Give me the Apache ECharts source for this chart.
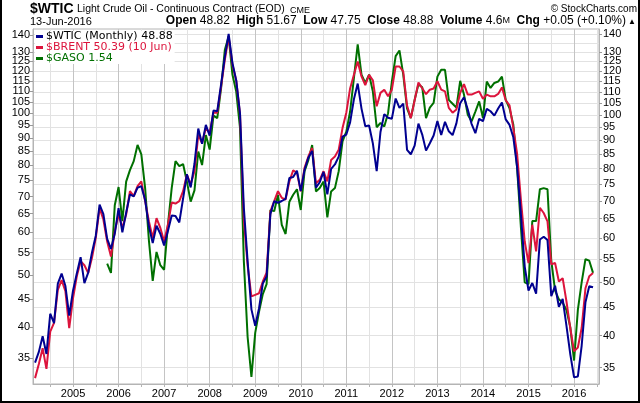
<!DOCTYPE html>
<html><head><meta charset="utf-8">
<script src="https://cdn.jsdelivr.net/npm/echarts@6/dist/echarts.min.js"></script>
<style>html,body{margin:0;padding:0;background:#fff}#c{width:640px;height:403px}</style>
</head><body><div id="c"></div>
<script>
// first monthly point: Mar 2004 (month index 2 counted from Jan 2004 = 0)
const firstMonth = 2;
const wtic = [
  35.76, 37.38, 39.88, 37.05, 43.80, 42.12, 49.64, 51.76, 49.13, 43.45,
  48.20, 51.75, 55.40, 49.72, 51.97, 56.50, 60.57, 68.94, 66.24, 59.76, 57.32, 61.04,
  67.92, 61.41, 66.63, 71.88, 71.29, 73.93, 74.40, 70.26, 62.91, 58.73, 63.13, 61.05,
  58.14, 61.79, 65.87, 65.71, 64.01, 70.68, 78.21, 74.04, 81.66, 94.53, 88.71, 95.98,
  91.75, 101.84, 101.58, 113.46, 127.35, 140.00, 124.08, 115.46, 100.64, 68.10, 54.43, 44.60,
  41.68, 44.76, 49.66, 51.12, 66.31, 69.89, 69.45, 69.96, 70.61, 77.00, 77.28, 79.36,
  72.89, 79.66, 83.76, 86.15, 73.97, 75.63, 78.95, 71.92, 79.97, 81.43, 84.11, 91.38,
  92.19, 96.97, 106.72, 113.93, 102.70, 95.42, 95.70, 88.81, 79.20, 93.19, 100.36, 98.83,
  98.48, 107.07, 103.02, 104.87, 86.53, 84.96, 88.06, 96.47, 92.19, 86.24, 88.91, 91.82,
  97.49, 92.05, 97.23, 93.46, 91.97, 96.56, 105.03, 107.65, 102.33, 96.38, 92.72, 98.42,
  97.49, 102.59, 101.58, 99.74, 102.71, 105.37, 98.17, 95.96, 91.16, 80.54, 66.15, 53.27,
  48.24, 49.76, 47.60, 59.63, 60.30, 59.47, 47.12, 49.20, 45.09, 46.59, 41.65, 37.04,
  33.62, 33.75, 38.34, 45.92, 49.10, 48.88
];
const brent = [
  32.1, 34.1, 36.5, 33.4, 39.2, 40.7, 46.9, 48.9, 46.6, 39.8,
  45.2, 49.7, 53.0, 52.1, 50.4, 53.8, 58.6, 66.6, 63.4, 57.7, 54.1, 60.3,
  64.8, 61.2, 64.8, 71.6, 70.1, 73.2, 74.7, 68.6, 62.9, 58.6, 63.8, 61.2,
  57.7, 62.0, 68.2, 67.9, 68.6, 71.6, 76.9, 73.7, 78.0, 91.2, 88.0, 93.9,
  91.9, 100.3, 100.3, 112.1, 125.9, 139.0, 123.2, 115.2, 99.5, 63.4, 52.1, 45.6,
  45.9, 46.2, 48.6, 50.5, 65.7, 68.6, 71.6, 69.6, 69.1, 74.7, 78.3, 77.5,
  71.6, 79.2, 83.1, 86.2, 74.1, 75.2, 78.0, 74.7, 81.9, 83.1, 85.6, 93.9,
  100.3, 111.3, 118.0, 125.0, 117.2, 112.9, 118.0, 115.2, 103.1, 109.2, 110.7, 107.6,
  110.7, 122.3, 122.3, 119.7, 103.4, 98.0, 105.8, 114.2, 111.4, 108.6, 110.7, 111.3,
  114.8, 110.7, 109.9, 102.4, 100.3, 101.7, 109.2, 113.4, 108.4, 108.4, 109.2, 109.9,
  106.5, 108.4, 107.6, 107.6, 108.7, 111.8, 105.8, 103.5, 93.9, 84.0, 69.0, 57.7,
  52.6, 62.0, 55.3, 66.7, 65.2, 62.9, 52.3, 52.6, 48.6, 49.3, 44.6, 39.8,
  36.0, 36.6, 39.8, 47.2, 49.7, 50.4
];
// GASO starts Oct 2005 (month index 21)
const gasoFirstMonth = 21;
const gaso = [
  1.60, 1.54, 2.04,
  2.20, 1.91, 2.25, 2.36, 2.45, 2.62, 2.52, 2.19, 1.76, 1.49, 1.68, 1.59,
  1.56, 1.88, 2.19, 2.45, 2.40, 2.42, 2.25, 2.07, 2.17, 2.55, 2.41, 2.73,
  2.57, 2.96, 2.93, 3.31, 3.89, 4.11, 3.51, 3.27, 2.81, 1.62, 1.18, 1.00,
  1.20, 1.31, 1.41, 1.47, 2.00, 1.99, 2.13, 1.88, 1.81, 2.07, 2.13, 2.18,
  2.00, 2.35, 2.46, 2.62, 2.16, 2.19, 2.25, 1.94, 2.16, 2.19, 2.35, 2.66,
  2.77, 3.01, 3.46, 3.98, 3.51, 3.39, 3.51, 3.27, 2.82, 2.87, 2.83, 2.99,
  3.41, 3.79, 3.88, 3.51, 3.05, 2.93, 3.16, 3.37, 3.33, 2.93, 3.06, 3.12,
  3.48, 3.58, 3.58, 3.16, 3.11, 3.06, 3.42, 3.23, 2.97, 2.89, 3.01, 3.14,
  2.93, 3.41, 3.32, 3.39, 3.41, 3.48, 3.16, 3.05, 2.85, 2.38, 1.86, 1.48,
  1.47, 1.91, 1.91, 2.18, 2.19, 2.18, 1.62, 1.43, 1.38, 1.36, 1.32, 1.23,
  1.07, 1.32, 1.48, 1.63, 1.62, 1.54
];
const priceTicks = [35,40,45,50,55,60,65,70,75,80,85,90,95,100,105,110,115,120,125,130,135,140];
const yearLabels = [2005,2006,2007,2008,2009,2010,2011,2012,2013,2014,2015,2016];
const seriesNames = ['$WTIC (Monthly) 48.88', '$BRENT 50.39 (10 Jun)', '$GASO 1.54'];
const colors = ['#000090', '#dc143c', '#007000'];

const yearTicks = yearLabels.map(y => (y - 2004) * 12);
const halfYearTicks = [];
for (let m = 6; m <= 150; m += 6) halfYearTicks.push(m);

const toPairs = (arr, start) => arr.map((v, i) => [start + i, v]);

const FONT = '"Liberation Sans", Arial, sans-serif';
const yLabel = (margin) => ({customValues: priceTicks, formatter: v => String(Math.round(v)), fontFamily: FONT, fontSize: 11, color: '#000', margin: margin, interval: 0, showMinLabel: true, showMaxLabel: true, hideOverlap: false});
const chart = echarts.init(document.getElementById('c'), null, {renderer: 'canvas'});
chart.setOption({
  animation: false,
  backgroundColor: '#fff',
  grid: {left: 33, right: 41, top: 29, bottom: 19, show: true, borderColor: '#b4b4b4', borderWidth: 1, containLabel: false},
  legend: {
    orient: 'vertical', left: 35, top: 31, padding: [0, 2, 0, 1], itemGap: 0,
    icon: 'rect', itemWidth: 7, itemHeight: 3, selectedMode: false,
    backgroundColor: '#fff',
    textStyle: {fontFamily: '"DejaVu Sans", Verdana, sans-serif', fontSize: 11, lineHeight: 11, padding: [0,0,0,-2]},
    data: [
      {name: seriesNames[0], textStyle: {color: '#000'}},
      {name: seriesNames[1], textStyle: {color: colors[1]}},
      {name: seriesNames[2], textStyle: {color: colors[2]}}
    ]
  },
  xAxis: {
    type: 'value', min: 1.46, max: 150.57,
    axisLine: {show: true, lineStyle: {color: '#b4b4b4'}},
    axisTick: {show: true, customValues: halfYearTicks, length: 3, lineStyle: {color: '#b4b4b4'}},
    axisLabel: {customValues: yearTicks, formatter: v => String(2004 + Math.round(v / 12)), fontFamily: FONT, fontSize: 11, color: '#000', margin: 4},
    splitLine: {show: true, lineStyle: {color: ['#e2e2e2', '#c4c4c4'], width: 1}}
  },
  yAxis: [
    { // WTIC scale (right)
      type: 'log', logBase: 10, min: 32.71, max: 142.94, position: 'right',
      axisLine: {show: true, lineStyle: {color: '#b4b4b4'}},
      axisTick: {show: true, customValues: priceTicks, length: 3, lineStyle: {color: '#999'}},
      axisLabel: yLabel(4),
      splitLine: {show: true, lineStyle: {color: '#e2e2e2', width: 1}}
    },
    { // BRENT scale (left)
      type: 'log', logBase: 10, min: 31.30, max: 143.65, position: 'left',
      axisLine: {show: true, lineStyle: {color: '#b4b4b4'}},
      axisTick: {show: true, customValues: priceTicks, length: 3, lineStyle: {color: '#999'}},
      axisLabel: yLabel(3),
      splitLine: {show: false}
    },
    { // GASO scale (hidden)
      type: 'log', logBase: 10, min: 0.9706, max: 4.2415, show: false,
      splitLine: {show: false}
    }
  ],
  series: [
    {name: seriesNames[2], type: 'line', yAxisIndex: 2, data: toPairs(gaso, gasoFirstMonth), showSymbol: false, color: colors[2], lineStyle: {width: 2, color: colors[2]}, z: 2},
    {name: seriesNames[1], type: 'line', yAxisIndex: 1, data: toPairs(brent, firstMonth), showSymbol: false, color: colors[1], lineStyle: {width: 2, color: colors[1]}, z: 3},
    {name: seriesNames[0], type: 'line', yAxisIndex: 0, data: toPairs(wtic, firstMonth), showSymbol: false, color: colors[0], lineStyle: {width: 2, color: colors[0]}, z: 4}
  ],
  graphic: [
    {type: 'text', left: 30, top: 2, style: {text: '$WTIC', font: 'bold 14px ' + FONT, fill: '#000'}},
    {type: 'text', left: 77, top: 4, style: {text: 'Light Crude Oil - Continuous Contract (EOD)', font: '10.5px ' + FONT, fill: '#000'}},
    {type: 'text', left: 290, top: 6, style: {text: 'CME', font: '9px ' + FONT, fill: '#000'}},
    {type: 'text', right: 3, top: 4, style: {text: '\u00a9 StockCharts.com', font: '10px ' + FONT, fill: '#000'}},
    {type: 'text', left: 30, top: 16, style: {text: '13-Jun-2016', font: '11px ' + FONT, fill: '#000'}},
    {type: 'text', right: 14, top: 15, style: {
      text: '{b|Open} 48.82  {b|High} 51.67  {b|Low} 47.75  {b|Close} 48.88  {b|Volume} 4.6{s|M}  {b|Chg} +0.05 (+0.10%)',
      font: '12px ' + FONT, fill: '#000',
      rich: {b: {font: 'bold 12px ' + FONT, fill: '#000'}, s: {font: '9px ' + FONT, fill: '#000'}}
    }},
    {type: 'text', right: 4, top: 18, style: {text: '\u25b2', font: '8px ' + FONT, fill: '#000'}},
    {type: 'polyline', shape: {points: [[1, 0], [1, 402], [639, 402], [639, 0]]}, style: {stroke: '#000', lineWidth: 2, fill: null}, silent: true}
  ]
});
</script>
</body></html>
